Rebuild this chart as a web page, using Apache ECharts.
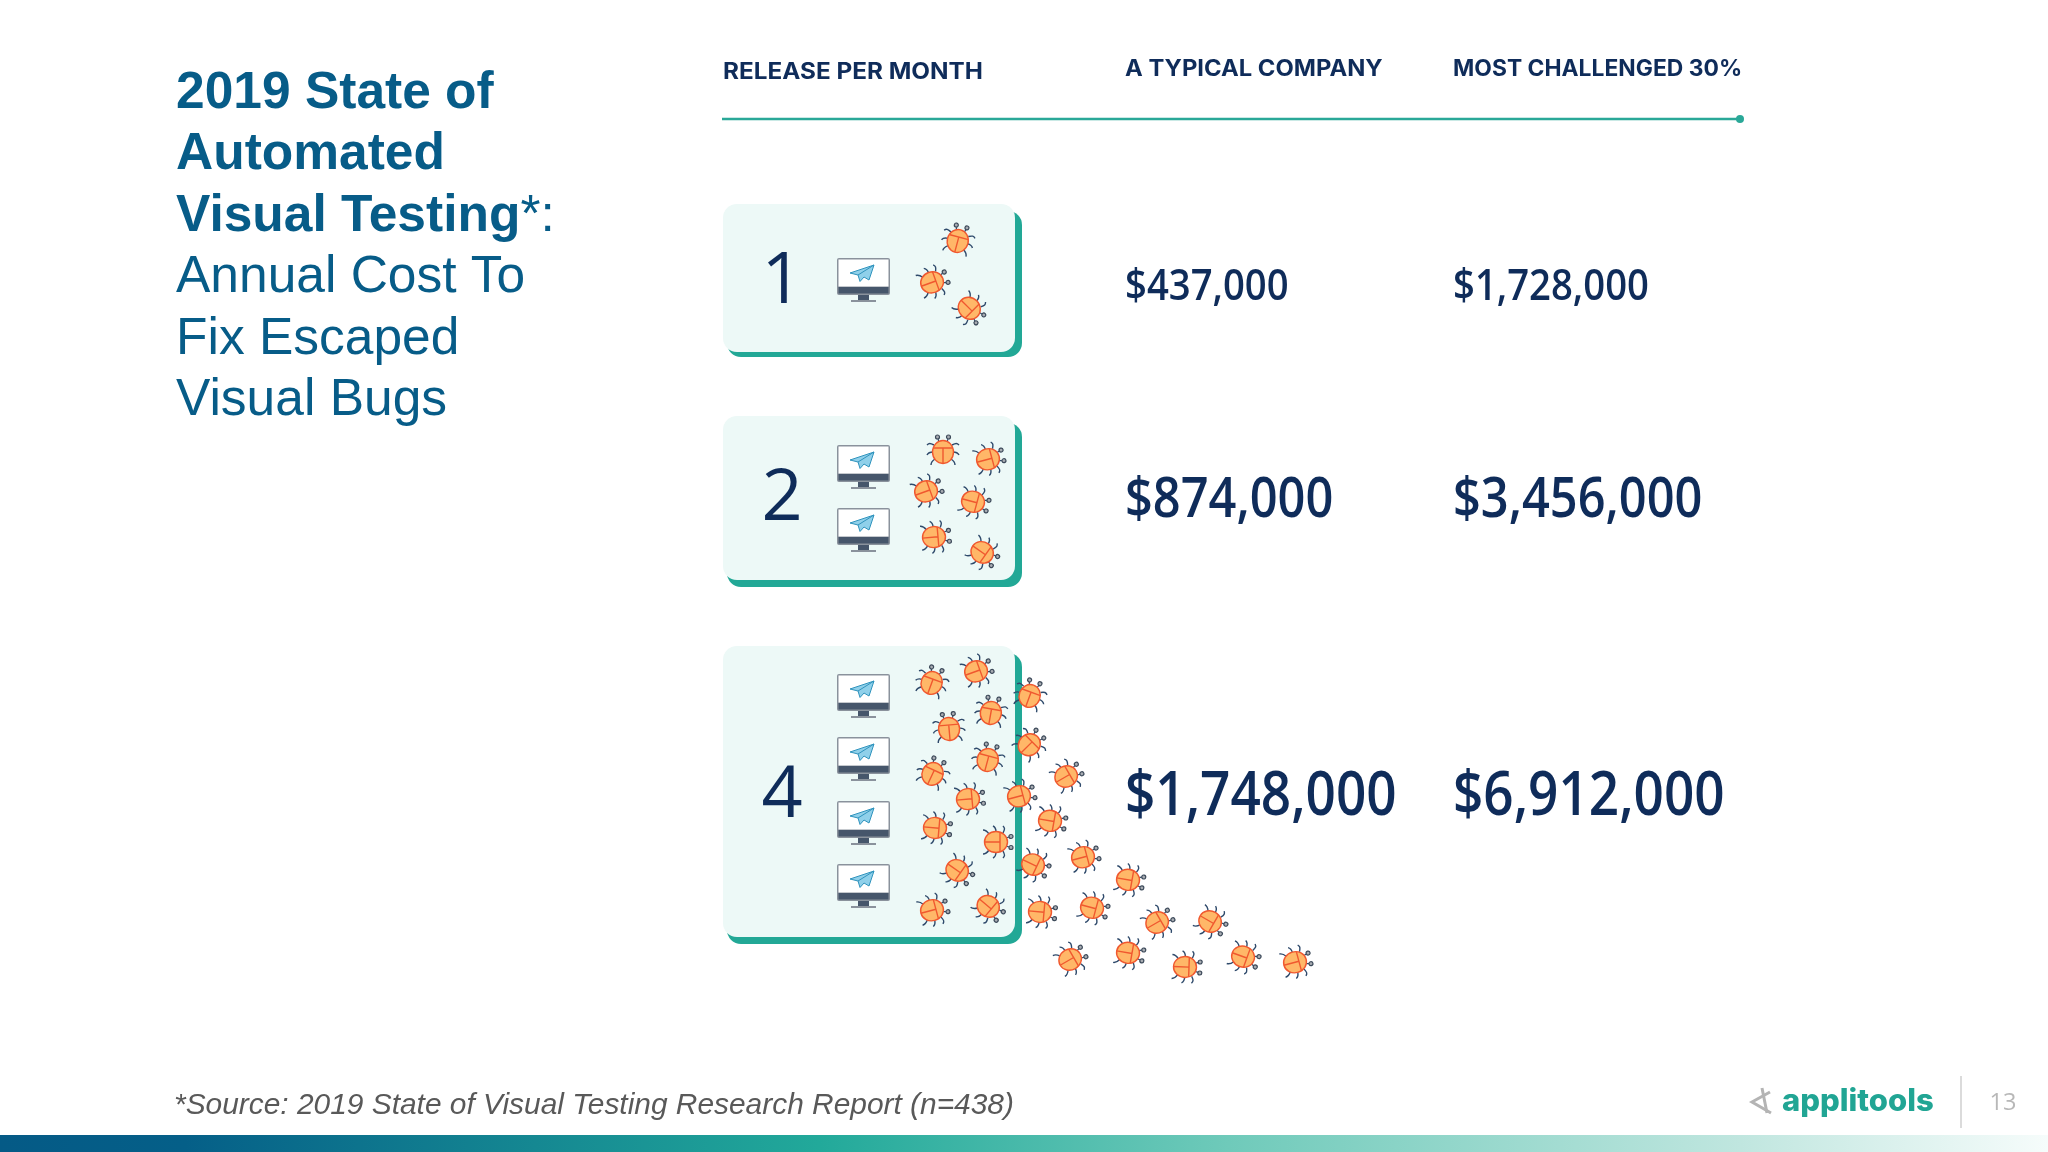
<!DOCTYPE html>
<html>
<head>
<meta charset="utf-8">
<title>2019 State of Automated Visual Testing</title>
<style>
  html, body { margin: 0; padding: 0; background: #fff; }
  #chart { width: 2048px; height: 1152px; }
</style>
<script src="https://cdn.jsdelivr.net/npm/echarts@6/dist/echarts.min.js"></script>
</head>
<body>
<div id="chart"></div>
<script>
  // ---- data ----
  const headers = ['RELEASE PER MONTH', 'A TYPICAL COMPANY', 'MOST CHALLENGED 30%'];
  const releases = [1, 2, 4];
  const typicalCost = [437000, 874000, 1748000];
  const challengedCost = [1728000, 3456000, 6912000];
  const titleBold = ['2019 State of', 'Automated', 'Visual Testing'];
  const titleRegular = ['Annual Cost To', 'Fix Escaped', 'Visual Bugs'];
  const sourceNote = '*Source: 2019 State of Visual Testing Research Report (n=438)';

  // one bug per index: where it sits on the slide and where its head points (deg, 0 = up)
  const bugX = [958, 933, 970,
    943, 989, 927, 974, 935, 983,
    932, 977, 1030, 991, 949, 1030, 988, 933, 1067, 969, 1020, 1051, 936, 997,
    1084, 1129, 1034, 958, 933, 989, 1041, 1093, 1158, 1211, 1071, 1129, 1186, 1244, 1296];
  const bugY = [240, 282, 309,
    451, 459, 491, 502, 537, 553,
    682, 671, 695, 712, 728, 744, 759, 773, 776, 799, 796, 821, 828, 842,
    857, 880, 865, 871, 910, 907, 912, 908, 922, 922, 959, 953, 967, 957, 962];
  const bugHeading = [15, 70, 135,
    0, 75, 70, 105, 85, 125,
    20, 70, 20, 10, -5, 45, 15, 25, 60, 85, 75, 100, 95, 90,
    75, 100, 115, 125, 75, 130, 95, 105, 60, 120, 60, 100, 92, 110, 75];

  // ---- layout ----
  const cardTop = [204, 416, 646], cardFaceBottom = [352, 580, 937], cardBottom = [357, 587, 944];
  const cardLeft = 723, cardFaceRight = 1015, cardRight = 1022;
  const rowMid = [287, 501, 798], numMid = [282, 499, 796], costSize = [44, 56, 61];
  const monitorTops = [[258], [445, 508], [674, 737, 801, 864]];
  const colTypical = 1125, colChallenged = 1453, monitorLeft = 837;
  const headerScale = [1.08, 1.058, 1.016];

  const NAVY = '#0f2c5a', TEAL = '#22a896', BLUE = '#075c88';
  const money = v => '$' + v.toLocaleString('en-US');

  function renderCard(params, api) {
    const i = params.dataIndex;
    const a = api.coord([cardLeft, cardTop[i]]), f = api.coord([cardFaceRight, cardFaceBottom[i]]);
    const b = api.coord([cardRight, cardBottom[i]]);
    return { type: 'group', children: [
      { type: 'rect', shape: { x: a[0] + 4, y: a[1] + 7, width: b[0] - a[0] - 4, height: b[1] - a[1] - 7, r: 14 },
        style: { fill: TEAL } },
      { type: 'rect', shape: { x: a[0], y: a[1], width: f[0] - a[0], height: f[1] - a[1], r: 14 },
        style: { fill: '#edf9f7' } },
      { type: 'text', x: 782, y: numMid[i], style: { text: String(releases[i]), fill: NAVY, align: 'center',
        verticalAlign: 'middle', font: '500 72px "Open Sans"' } }
    ] };
  }

  function renderMonitor(params, api) {
    const p = api.coord([api.value(0), api.value(1)]);
    return { type: 'group', x: p[0], y: p[1], children: [
      { type: 'rect', shape: { x: 0, y: 0, width: 53, height: 37, r: 2 }, style: { fill: '#8a929c' } },
      { type: 'rect', shape: { x: 1.5, y: 1.5, width: 50, height: 27 }, style: { fill: '#fff' } },
      { type: 'rect', shape: { x: 1.5, y: 29, width: 50, height: 6.5 }, style: { fill: '#46566b' } },
      { type: 'rect', shape: { x: 21, y: 37, width: 11, height: 5 }, style: { fill: '#46566b' } },
      { type: 'rect', shape: { x: 14, y: 42, width: 25, height: 2 }, style: { fill: '#8a929c' } },
      { type: 'polygon', shape: { points: [[37, 7], [13, 15], [21, 17], [23, 23.5], [27, 19], [32, 22]] },
        style: { fill: '#8fd0ea', stroke: '#2f93bd', lineWidth: 1 } },
      { type: 'polyline', shape: { points: [[37, 7], [21, 17]] }, style: { fill: 'none', stroke: '#2f93bd', lineWidth: 1 } }
    ] };
  }

  const LEG_PATH = 'M-9,-6C-13,-8 -14,-8 -16,-6 M-10,1C-14,1 -15,2 -16,4 M-8,8C-11,10 -12,11 -12,14'
    + ' M9,-6C13,-8 14,-8 16,-6 M10,1C14,1 15,2 16,4 M8,8C11,10 12,11 12,14';
  const BUG_ANGLE = Math.PI / 180;

  function renderBug(params, api) {
    const p = api.coord([api.value(0), api.value(1)]);
    return { type: 'group', x: p[0], y: p[1], rotation: -api.value(2) * BUG_ANGLE, children: [
      { type: 'path', shape: { pathData: LEG_PATH }, style: { fill: 'none', stroke: '#2f4a6b', lineWidth: 1.4 } },
      { type: 'path', shape: { pathData: 'M-4,-9L-5,-12 M4,-9L5,-12' }, style: { fill: 'none', stroke: '#2f4a6b', lineWidth: 1.2 } },
      { type: 'circle', shape: { cx: -5.5, cy: -14, r: 2 }, style: { fill: '#a9adb3', stroke: '#3d4a5a', lineWidth: 1.2 } },
      { type: 'circle', shape: { cx: 5.5, cy: -14, r: 2 }, style: { fill: '#a9adb3', stroke: '#3d4a5a', lineWidth: 1.2 } },
      { type: 'ellipse', shape: { cx: 0, cy: 1, rx: 10.5, ry: 11.5 }, style: { fill: '#ffb768', stroke: '#f0582f', lineWidth: 1.4 } },
      { type: 'path', shape: { pathData: 'M-10,-3L10,-3 M0,-3L0,12.5' }, style: { fill: 'none', stroke: '#f0582f', lineWidth: 1.4 } }
    ] };
  }

  function renderCosts(params, api) {
    const i = params.dataIndex;
    const cell = (x, v) => ({ type: 'text', x: x, y: rowMid[i], scaleX: 0.87, style: { text: money(v), fill: NAVY,
      align: 'left', verticalAlign: 'middle', font: '600 ' + costSize[i] + 'px "Open Sans"' } });
    return { type: 'group', children: [cell(colTypical, typicalCost[i]), cell(colChallenged, challengedCost[i])] };
  }

  const monitorData = monitorTops.flat().map(y => [monitorLeft, y]);
  const bugData = bugX.map((x, i) => [x, bugY[i], bugHeading[i]]);
  const rowData = releases.map((r, i) => [r, typicalCost[i], challengedCost[i]]);
  const custom = (renderItem, data, z) => ({ type: 'custom', coordinateSystem: 'cartesian2d', renderItem, data, z,
    silent: true, clip: false, encode: { x: 0, y: 1 } });

  const headerText = (i, x, y) => ({ type: 'text', x, y, scaleX: headerScale[i], style: { text: headers[i], fill: NAVY,
    align: 'left', verticalAlign: 'middle', font: '700 22.5px Inter' } });

  const chart = echarts.init(document.getElementById('chart'), null, { renderer: 'canvas' });
  chart.setOption({
    animation: false,
    backgroundColor: '#fff',
    title: [
      { left: 176, top: 63, padding: 0, text: [...titleBold.map((t, i) => `{b|${t}}` + (i === 2 ? '{r|*:}' : '')),
          ...titleRegular.map(t => `{r|${t}}`)].join('\n'),
        textStyle: { rich: {
          b: { fontFamily: 'Liberation Sans', fontSize: 51.5, fontWeight: 'bold', color: BLUE, lineHeight: 61.5 },
          r: { fontFamily: 'Liberation Sans', fontSize: 51.5, fontWeight: 'normal', color: BLUE, lineHeight: 61.5 } } } },
      { left: 174, top: 1091, padding: 0, text: sourceNote,
        textStyle: { fontFamily: 'Liberation Sans', fontSize: 29.9, fontStyle: 'italic', fontWeight: 'normal', color: '#595959' } }
    ],
    grid: { left: 0, right: 0, top: 0, bottom: 0 },
    xAxis: { type: 'value', min: 0, max: 2048, show: false },
    yAxis: { type: 'value', min: 0, max: 1152, inverse: true, show: false },
    series: [
      custom(renderCard, rowData, 1),
      custom(renderMonitor, monitorData, 2),
      custom(renderBug, bugData, 3),
      custom(renderCosts, rowData, 3)
    ],
    graphic: [
      headerText(0, 723, 72),
      headerText(1, colTypical, 69),
      headerText(2, colChallenged, 69),
      { type: 'line', shape: { x1: 722, y1: 119, x2: 1740, y2: 119 }, style: { stroke: '#2aa898', lineWidth: 2.5 } },
      { type: 'circle', shape: { cx: 1740, cy: 119, r: 4 }, style: { fill: '#2aa898' } },
      // logo + page number
      { type: 'polyline', shape: { points: [[1770, 1092], [1752, 1102], [1771, 1113]] },
        style: { fill: 'none', stroke: '#b4b4b4', lineWidth: 3 } },
      { type: 'line', shape: { x1: 1762, y1: 1088, x2: 1767, y2: 1113 }, style: { stroke: '#b4b4b4', lineWidth: 3 } },
      { type: 'text', x: 1782, y: 1102, style: { text: 'applitools', fill: '#21a594', align: 'left', verticalAlign: 'middle',
        font: '800 31px Inter' } },
      { type: 'line', shape: { x1: 1961, y1: 1076, x2: 1961, y2: 1128 }, style: { stroke: '#cfcfcf', lineWidth: 1.5 } },
      { type: 'text', x: 2003, y: 1103, style: { text: '13', fill: '#b8b8b8', align: 'center', verticalAlign: 'middle',
        font: '23.5px "Open Sans"' } },
      // bottom band
      { type: 'rect', shape: { x: 0, y: 1135, width: 2048, height: 17 }, style: { fill: {
        type: 'linear', x: 0, y: 0, x2: 1, y2: 0,
        colorStops: [{ offset: 0, color: '#055a86' }, { offset: 0.09, color: '#055f88' }, { offset: 0.4, color: '#22a99a' },
          { offset: 0.6, color: '#6fcaba' }, { offset: 0.85, color: '#c0e6df' }, { offset: 1, color: '#f6fcfb' }] } } }
    ]
  });
  window.addEventListener('resize', () => chart.resize());
</script>
</body>
</html>
